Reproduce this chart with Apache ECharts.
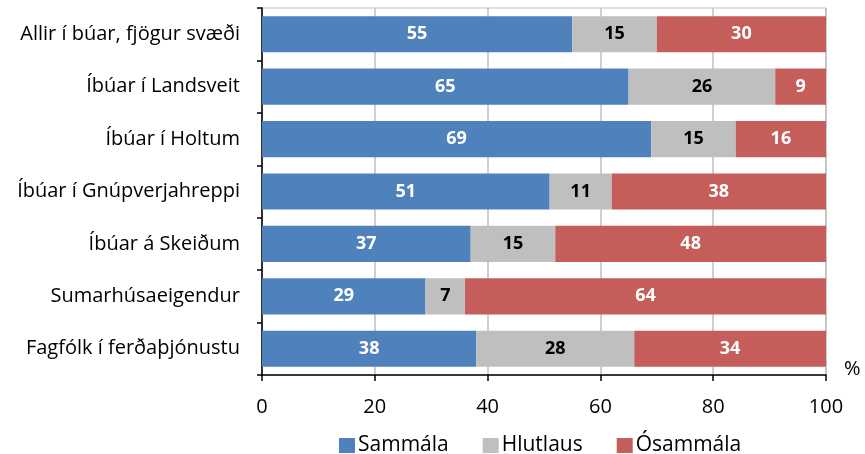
<!DOCTYPE html>
<html>
<head>
<meta charset="utf-8">
<script src="https://cdn.jsdelivr.net/npm/echarts@6/dist/echarts.min.js"></script>
<style>
  html, body { margin: 0; padding: 0; background: #fff; }
  #chart { width: 865px; height: 454px; }
</style>
</head>
<body>
<div id="chart"></div>
<script>
const categories = [
  'Allir í búar, fjögur svæði',
  'Íbúar í Landsveit',
  'Íbúar í Holtum',
  'Íbúar í Gnúpverjahreppi',
  'Íbúar á Skeiðum',
  'Sumarhúsaeigendur',
  'Fagfólk í ferðaþjónustu'
];
const sammala = [55, 65, 69, 51, 37, 29, 38];
const hlutlaus = [15, 26, 15, 11, 15, 7, 28];
const osammala = [30, 9, 16, 38, 48, 64, 34];
const xTicks = [0, 20, 40, 60, 80, 100];

const FONT = '"Open Sans", "Noto Sans", sans-serif';

function barSeries(name, data, color, labelColor) {
  return {
    name: name,
    type: 'bar',
    stack: 'total',
    data: data,
    barCategoryGap: '31%',
    itemStyle: { color: color },
    label: {
      show: true,
      position: 'inside',
      color: labelColor,
      fontFamily: FONT,
      fontWeight: 'bold',
      fontSize: 18
    }
  };
}

const chart = echarts.init(document.getElementById('chart'));
chart.setOption({
  backgroundColor: '#fff',
  animation: false,
  grid: {
    left: 262, right: 39, top: 8, bottom: 79,
    show: true, borderColor: '#bfbfbf', borderWidth: 1
  },
  legend: {
    top: 430,
    left: 334,
    itemWidth: 16,
    itemHeight: 15,
    itemGap: 34,
    icon: 'rect',
    textStyle: { fontFamily: FONT, fontSize: 21, color: '#000', padding: [0, 0, 0, -2] },
    data: ['Sammála', 'Hlutlaus', 'Ósammála']
  },
  xAxis: {
    type: 'value',
    min: xTicks[0],
    max: xTicks[xTicks.length - 1],
    interval: 20,
    name: '%',
    nameLocation: 'end',
    nameGap: 18,
    nameTextStyle: { fontFamily: FONT, fontSize: 20, color: '#000', verticalAlign: 'bottom', padding: [0, 0, -4, 0] },
    axisLine: { show: true, lineStyle: { color: '#000', width: 1.5 } },
    axisTick: { show: true, length: 6, lineStyle: { color: '#000', width: 1.5 } },
    axisLabel: { fontFamily: FONT, fontSize: 20, color: '#000', margin: 22 },
    splitLine: { show: true, lineStyle: { color: '#bfbfbf', width: 1.5 } }
  },
  yAxis: {
    type: 'category',
    inverse: true,
    data: categories,
    axisLine: { show: true, lineStyle: { color: '#000', width: 1.5 } },
    axisTick: { show: true, length: 5, inside: false, lineStyle: { color: '#000', width: 1.5 } },
    axisLabel: { fontFamily: FONT, fontSize: 20, color: '#000', margin: 22 }
  },
  series: [
    barSeries('Sammála', sammala, '#4f81bd', '#fff'),
    barSeries('Hlutlaus', hlutlaus, '#bfbfbf', '#000'),
    barSeries('Ósammála', osammala, '#c55d5a', '#fff')
  ]
});
window.addEventListener('resize', () => chart.resize());
</script>
</body>
</html>
